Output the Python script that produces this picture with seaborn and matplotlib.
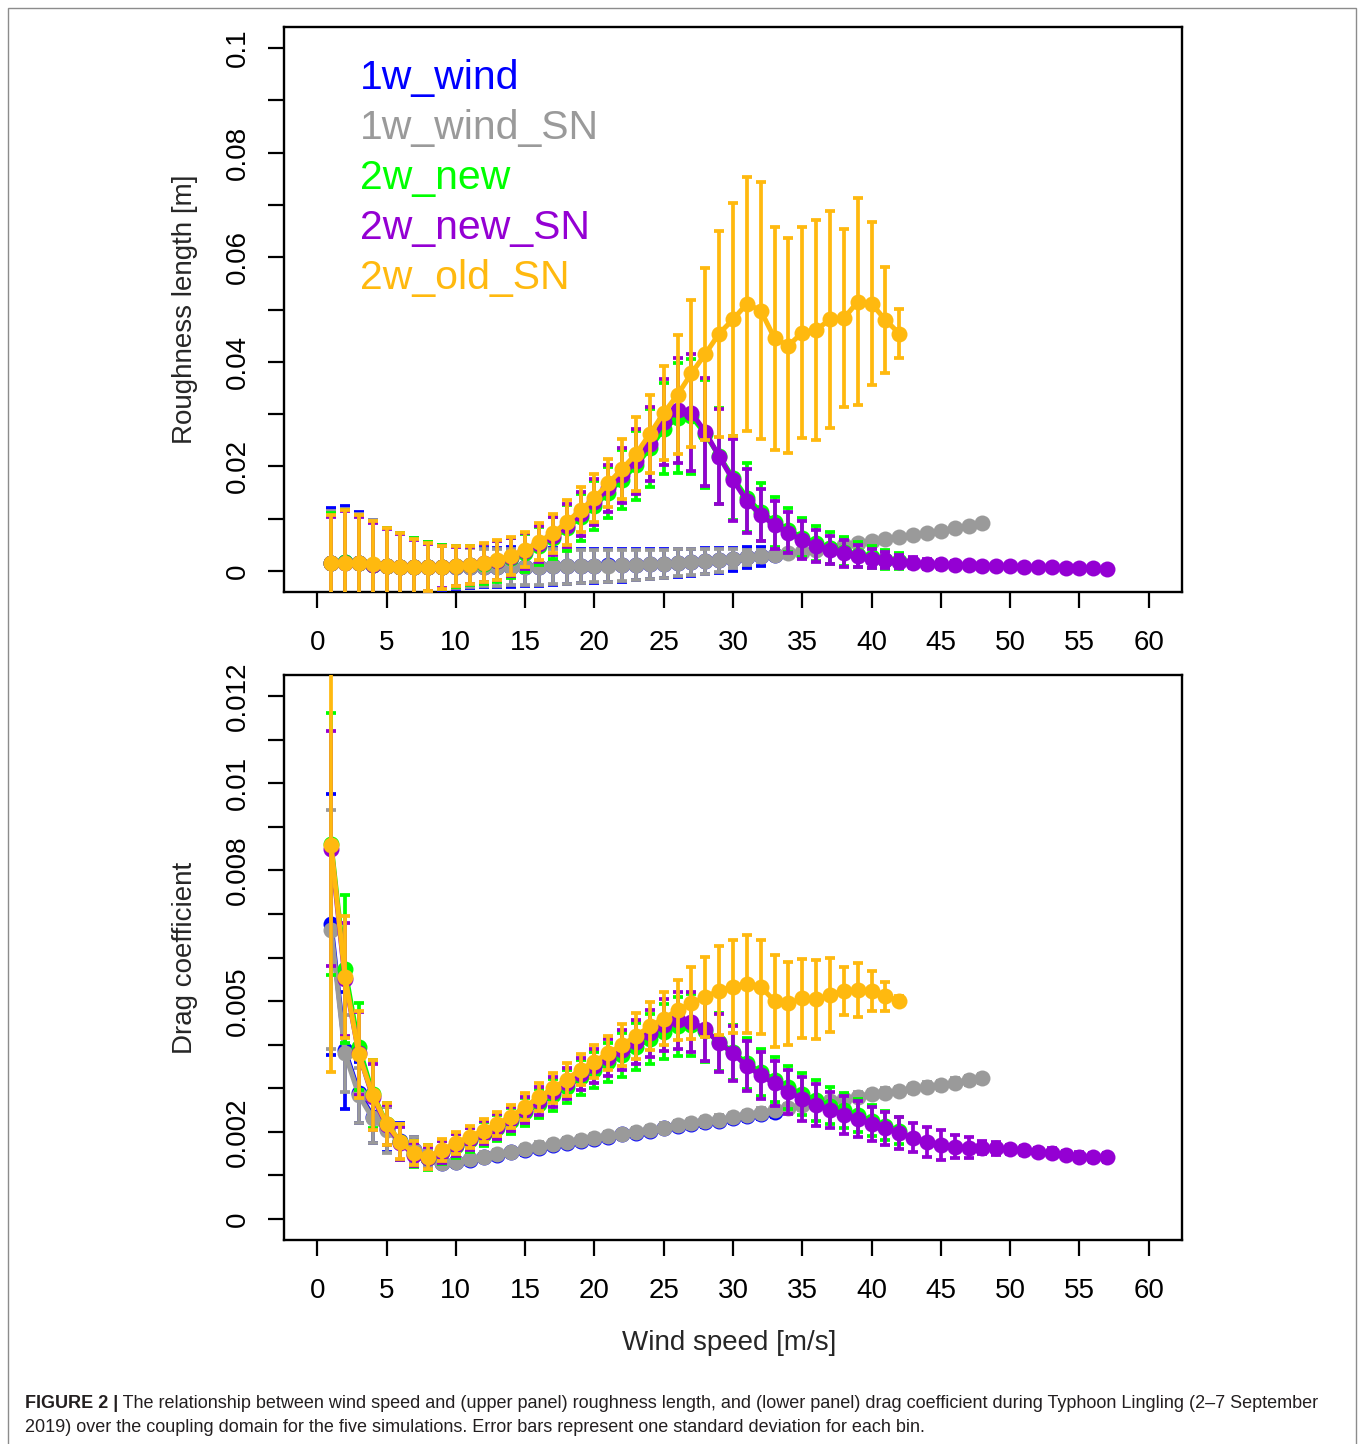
import numpy as np
import pandas as pd
import matplotlib
matplotlib.use("Agg")
import matplotlib.pyplot as plt
import seaborn as sns
from matplotlib.patches import Rectangle

# ---------------- data ----------------
series_names = ["1w_wind", "1w_wind_SN", "2w_new", "2w_new_SN", "2w_old_SN"]
series_colors = ["#0000FF", "#9A9A9A", "#00FF00", "#9400D3", "#FFB90F"]

x_ticks = [0, 5, 10, 15, 20, 25, 30, 35, 40, 45, 50, 55, 60]

# ---- upper panel: roughness length [m] (wind-speed bins start at 1 m/s) ----
blue_z0 = [0.0016, 0.0017, 0.0015, 0.0012, 0.0010, 0.0008, 0.0007, 0.0007, 0.0007, 0.0007,
           0.0007, 0.0007, 0.0007, 0.0008, 0.0008, 0.0008, 0.0009, 0.0009, 0.0010, 0.0010,
           0.0011, 0.0011, 0.0012, 0.0013, 0.0014, 0.0016, 0.0017, 0.0019, 0.0021, 0.0023,
           0.0026, 0.0028, 0.0031]
blue_z0_sd = [0.0104, 0.0107, 0.0097, 0.0086, 0.0073, 0.0065, 0.0057, 0.0049, 0.0043, 0.0041,
              0.0039, 0.0038, 0.0037, 0.0038, 0.0037, 0.0036, 0.0035, 0.0034, 0.0033, 0.0032,
              0.0031, 0.0031, 0.0030, 0.0029, 0.0028, 0.0027, 0.0026, 0.0025, 0.0024, 0.0022,
              0.0020, 0.0018, 0.0010]

gray_z0 = [0.0015, 0.0016, 0.0015, 0.0012, 0.0010, 0.0008, 0.0007, 0.0007, 0.0007, 0.0007,
           0.0007, 0.0007, 0.0007, 0.0008, 0.0008, 0.0008, 0.0009, 0.0009, 0.0009, 0.0010,
           0.0010, 0.0011, 0.0012, 0.0013, 0.0014, 0.0016, 0.0017, 0.0019, 0.0021, 0.0024,
           0.0026, 0.0029, 0.0031, 0.0034, 0.0037, 0.0041, 0.0045, 0.0049, 0.0053, 0.0057,
           0.0061, 0.0065, 0.0069, 0.0073, 0.0077, 0.0082, 0.0087, 0.0092]
gray_z0_sd = [0.0100, 0.0102, 0.0095, 0.0085, 0.0072, 0.0064, 0.0056, 0.0048, 0.0042, 0.0040,
              0.0038, 0.0036, 0.0035, 0.0035, 0.0034, 0.0034, 0.0034, 0.0033, 0.0032, 0.0031,
              0.0030, 0.0030, 0.0029, 0.0028, 0.0027, 0.0026, 0.0025, 0.0024, 0.0022, 0.0018,
              0.0015, 0.0012, 0.0003, 0.0003, 0.0003, 0.0003, 0.0003, 0.0003, 0.0003, 0.0003,
              0.0003, 0.0003, 0.0003, 0.0003, 0.0003, 0.0003, 0.0003, 0.0003]

green_z0 = [0.0016, 0.0017, 0.0015, 0.0012, 0.0010, 0.0008, 0.0007, 0.0007, 0.0007, 0.0009,
            0.0011, 0.0014, 0.0019, 0.0025, 0.0035, 0.0048, 0.0063, 0.0082, 0.0103, 0.0125,
            0.0150, 0.0175, 0.0202, 0.0235, 0.0272, 0.0293, 0.0296, 0.0262, 0.0220, 0.0178,
            0.0140, 0.0113, 0.0094, 0.0078, 0.0064, 0.0053, 0.0044, 0.0037, 0.0031, 0.0026,
            0.0022, 0.0019]
green_z0_sd = [0.0095, 0.0100, 0.0090, 0.0082, 0.0072, 0.0064, 0.0056, 0.0048, 0.0042, 0.0039,
               0.0037, 0.0038, 0.0039, 0.0038, 0.0036, 0.0037, 0.0040, 0.0044, 0.0045, 0.0047,
               0.0048, 0.0056, 0.0066, 0.0074, 0.0087, 0.0105, 0.0110, 0.0104, 0.0092, 0.0080,
               0.0066, 0.0055, 0.0048, 0.0042, 0.0038, 0.0033, 0.0030, 0.0028, 0.0024, 0.0021,
               0.0018, 0.0015]

purple_z0 = [0.0015, 0.0016, 0.0015, 0.0012, 0.0010, 0.0008, 0.0007, 0.0007, 0.0007, 0.0009,
             0.0011, 0.0015, 0.0020, 0.0027, 0.0038, 0.0052, 0.0067, 0.0087, 0.0109, 0.0132,
             0.0158, 0.0183, 0.0210, 0.0243, 0.0285, 0.0307, 0.0303, 0.0266, 0.0219, 0.0174,
             0.0134, 0.0107, 0.0088, 0.0073, 0.0059, 0.0048, 0.0040, 0.0034, 0.0029, 0.0024,
             0.0021, 0.0018, 0.0016, 0.0014, 0.0013, 0.0012, 0.0011, 0.0010, 0.0009, 0.0009,
             0.0008, 0.0008, 0.0007, 0.0006, 0.0006, 0.0005, 0.0004]
purple_z0_sd = [0.0089, 0.0098, 0.0088, 0.0080, 0.0070, 0.0062, 0.0053, 0.0045, 0.0040, 0.0037,
                0.0035, 0.0036, 0.0037, 0.0036, 0.0034, 0.0035, 0.0037, 0.0041, 0.0042, 0.0044,
                0.0045, 0.0053, 0.0062, 0.0070, 0.0082, 0.0100, 0.0112, 0.0104, 0.0090, 0.0078,
                0.0062, 0.0050, 0.0045, 0.0039, 0.0036, 0.0030, 0.0027, 0.0026, 0.0021, 0.0019,
                0.0015, 0.0013, 0.0011, 0.0010, 0.0009, 0.0008, 0.0007, 0.0006, 0.0005, 0.0004,
                0.0003, 0.0003, 0.0003, 0.0003, 0.0003, 0.0003, 0.0003]

orange_z0 = [0.0016, 0.0016, 0.0016, 0.0013, 0.0010, 0.0008, 0.0007, 0.0007, 0.0007, 0.0010,
             0.0012, 0.0016, 0.0021, 0.0029, 0.0041, 0.0056, 0.0072, 0.0093, 0.0117, 0.0139,
             0.0168, 0.0195, 0.0224, 0.0262, 0.0302, 0.0337, 0.0378, 0.0415, 0.0454, 0.0481,
             0.0511, 0.0498, 0.0445, 0.0431, 0.0456, 0.0461, 0.0481, 0.0483, 0.0515, 0.0511,
             0.0480, 0.0454]
orange_z0_sd = [0.0091, 0.0101, 0.0091, 0.0083, 0.0072, 0.0064, 0.0055, 0.0046, 0.0041, 0.0038,
                0.0036, 0.0037, 0.0038, 0.0037, 0.0034, 0.0035, 0.0038, 0.0043, 0.0043, 0.0046,
                0.0046, 0.0057, 0.0071, 0.0075, 0.0090, 0.0114, 0.0140, 0.0165, 0.0197, 0.0223,
                0.0243, 0.0245, 0.0213, 0.0206, 0.0201, 0.0210, 0.0208, 0.0170, 0.0198, 0.0156,
                0.0102, 0.0047]

# ---- lower panel: drag coefficient ----
blue_cd = [0.00676, 0.00387, 0.00290, 0.00235, 0.00206, 0.00178, 0.00158, 0.00140, 0.00128, 0.00130,
           0.00136, 0.00142, 0.00148, 0.00153, 0.00158, 0.00164, 0.00170, 0.00175, 0.00180, 0.00184,
           0.00189, 0.00194, 0.00198, 0.00202, 0.00209, 0.00214, 0.00218, 0.00222, 0.00226, 0.00231,
           0.00236, 0.00240, 0.00245]
blue_cd_sd = [0.00300, 0.00134, 0.00070, 0.00060, 0.00052, 0.00042, 0.00030, 0.00020, 0.00010, 0.00010,
              0.00010, 0.00010, 0.00010, 0.00010, 0.00010, 0.00010, 0.00010, 0.00010, 0.00010, 0.00010,
              0.00010, 0.00010, 0.00010, 0.00010, 0.00010, 0.00010, 0.00010, 0.00010, 0.00010, 0.00010,
              0.00010, 0.00010, 0.00010]

gray_cd = [0.00664, 0.00380, 0.00284, 0.00231, 0.00204, 0.00177, 0.00158, 0.00139, 0.00128, 0.00131,
           0.00137, 0.00143, 0.00149, 0.00154, 0.00160, 0.00166, 0.00172, 0.00177, 0.00181, 0.00185,
           0.00190, 0.00195, 0.00199, 0.00204, 0.00210, 0.00216, 0.00220, 0.00224, 0.00228, 0.00234,
           0.00239, 0.00244, 0.00250, 0.00254, 0.00261, 0.00267, 0.00270, 0.00275, 0.00281, 0.00287,
           0.00290, 0.00294, 0.00300, 0.00304, 0.00307, 0.00313, 0.00318, 0.00323]
gray_cd_sd = [0.00275, 0.00088, 0.00063, 0.00057, 0.00052, 0.00042, 0.00030, 0.00020, 0.00010, 0.00010,
              0.00010, 0.00010, 0.00010, 0.00010, 0.00010, 0.00010, 0.00010, 0.00010, 0.00010, 0.00010,
              0.00010, 0.00010, 0.00010, 0.00010, 0.00010, 0.00010, 0.00010, 0.00010, 0.00010, 0.00010,
              0.00010, 0.00010, 0.00010, 0.00010, 0.00010, 0.00010, 0.00010, 0.00010, 0.00010, 0.00010,
              0.00010, 0.00010, 0.00010, 0.00010, 0.00010, 0.00010, 0.00010, 0.00010]

green_cd = [0.00860, 0.00573, 0.00395, 0.00288, 0.00219, 0.00176, 0.00149, 0.00141, 0.00153, 0.00168,
            0.00182, 0.00195, 0.00209, 0.00225, 0.00245, 0.00265, 0.00285, 0.00304, 0.00325, 0.00342,
            0.00360, 0.00377, 0.00395, 0.00413, 0.00430, 0.00442, 0.00445, 0.00432, 0.00406, 0.00383,
            0.00357, 0.00337, 0.00320, 0.00302, 0.00287, 0.00272, 0.00260, 0.00250, 0.00238, 0.00226,
            0.00214, 0.00203]
green_cd_sd = [0.00300, 0.00170, 0.00100, 0.00078, 0.00048, 0.00040, 0.00029, 0.00028, 0.00027, 0.00027,
               0.00027, 0.00028, 0.00030, 0.00030, 0.00032, 0.00034, 0.00036, 0.00038, 0.00040, 0.00042,
               0.00045, 0.00050, 0.00054, 0.00058, 0.00063, 0.00068, 0.00072, 0.00072, 0.00067, 0.00063,
               0.00058, 0.00054, 0.00052, 0.00050, 0.00048, 0.00046, 0.00042, 0.00040, 0.00038, 0.00035,
               0.00033, 0.00030]

purple_cd = [0.00850, 0.00550, 0.00380, 0.00280, 0.00216, 0.00174, 0.00148, 0.00140, 0.00154, 0.00170,
             0.00184, 0.00198, 0.00212, 0.00229, 0.00250, 0.00271, 0.00291, 0.00311, 0.00333, 0.00350,
             0.00370, 0.00387, 0.00406, 0.00426, 0.00445, 0.00456, 0.00453, 0.00435, 0.00404, 0.00380,
             0.00351, 0.00330, 0.00311, 0.00292, 0.00275, 0.00261, 0.00250, 0.00239, 0.00229, 0.00218,
             0.00208, 0.00197, 0.00187, 0.00177, 0.00170, 0.00166, 0.00164, 0.00164, 0.00162, 0.00160,
             0.00158, 0.00154, 0.00152, 0.00147, 0.00143, 0.00142, 0.00142]
purple_cd_sd = [0.00270, 0.00130, 0.00095, 0.00075, 0.00046, 0.00038, 0.00027, 0.00026, 0.00025, 0.00025,
                0.00025, 0.00026, 0.00028, 0.00028, 0.00030, 0.00032, 0.00034, 0.00036, 0.00037, 0.00039,
                0.00042, 0.00046, 0.00050, 0.00054, 0.00060, 0.00065, 0.00069, 0.00072, 0.00066, 0.00063,
                0.00058, 0.00054, 0.00052, 0.00051, 0.00050, 0.00048, 0.00042, 0.00044, 0.00041, 0.00040,
                0.00038, 0.00037, 0.00034, 0.00034, 0.00034, 0.00027, 0.00025, 0.00015, 0.00015, 0.00010,
                0.00010, 0.00010, 0.00010, 0.00010, 0.00010, 0.00010, 0.00010]

orange_cd = [0.00857, 0.00556, 0.00378, 0.00284, 0.00219, 0.00177, 0.00151, 0.00143, 0.00158, 0.00174,
             0.00189, 0.00203, 0.00218, 0.00235, 0.00258, 0.00279, 0.00300, 0.00320, 0.00343, 0.00361,
             0.00381, 0.00399, 0.00420, 0.00442, 0.00460, 0.00479, 0.00495, 0.00510, 0.00524, 0.00533,
             0.00539, 0.00533, 0.00500, 0.00495, 0.00506, 0.00504, 0.00514, 0.00524, 0.00525, 0.00524,
             0.00511, 0.00501]
orange_cd_sd = [0.00520, 0.00140, 0.00100, 0.00080, 0.00048, 0.00040, 0.00027, 0.00027, 0.00025, 0.00025,
                0.00025, 0.00026, 0.00028, 0.00027, 0.00031, 0.00032, 0.00034, 0.00037, 0.00036, 0.00038,
                0.00040, 0.00048, 0.00052, 0.00055, 0.00060, 0.00069, 0.00083, 0.00092, 0.00102, 0.00107,
                0.00112, 0.00108, 0.00106, 0.00095, 0.00090, 0.00090, 0.00086, 0.00055, 0.00062, 0.00046,
                0.00033, 0.00010]

z0_means = [blue_z0, gray_z0, green_z0, purple_z0, orange_z0]
z0_sds = [blue_z0_sd, gray_z0_sd, green_z0_sd, purple_z0_sd, orange_z0_sd]
cd_means = [blue_cd, gray_cd, green_cd, purple_cd, orange_cd]
cd_sds = [blue_cd_sd, gray_cd_sd, green_cd_sd, purple_cd_sd, orange_cd_sd]

z0_ticks = [0, 0.01, 0.02, 0.03, 0.04, 0.05, 0.06, 0.07, 0.08, 0.09, 0.1]
z0_ticklabels = ["0", "", "0.02", "", "0.04", "", "0.06", "", "0.08", "", "0.1"]
cd_ticks = [0, 0.001, 0.002, 0.003, 0.004, 0.005, 0.006, 0.007, 0.008, 0.009, 0.010, 0.011, 0.012]
cd_ticklabels = ["0", "", "0.002", "", "", "0.005", "", "", "0.008", "", "0.01", "", "0.012"]

caption_bold = "FIGURE 2 |"
caption_line1 = (" The relationship between wind speed and (upper panel) roughness length, and (lower panel) "
                 "drag coefficient during Typhoon Lingling (2\u20137 September")
caption_line2 = ("2019) over the coupling domain for the five simulations. Error bars represent one standard "
                 "deviation for each bin.")

# ---------------- style ----------------
sns.set_style("ticks")
plt.rcParams["font.family"] = ["Liberation Sans", "DejaVu Sans"]

W, H = 1358, 1444
fig = plt.figure(figsize=(W / 100, H / 100), dpi=100)
fig.patch.set_facecolor("white")

def frac_box(left, top, right, bottom):
    return [left / W, 1 - bottom / H, (right - left) / W, (bottom - top) / H]

ax1 = fig.add_axes(frac_box(284, 27, 1182, 592))
ax2 = fig.add_axes(frac_box(284, 675, 1182, 1240))

TICK_FS = 20


def draw_panel(ax, means, sds):
    for i, (name, color, y, sd) in enumerate(zip(series_names, series_colors, means, sds)):
        x = np.arange(1, len(y) + 1)
        df = pd.DataFrame({"wind": x, "val": y, "sd": sd})
        z = 3 + 2 * i
        sns.lineplot(data=df, x="wind", y="val", color=color, linewidth=3.6,
                     marker="o", markersize=11.5, markeredgewidth=0, ax=ax, zorder=z,
                     errorbar=None, legend=False)
        ax.errorbar(df["wind"], df["val"], yerr=df["sd"], fmt="none", ecolor=color,
                    elinewidth=2.7, capsize=3.6, capthick=2.7, zorder=z + 1)
    ax.set_xlim(-2.4, 62.4)
    ax.set_xticks(x_ticks)
    ax.set_xticklabels([str(t) for t in x_ticks])
    ax.set_xlabel("")
    for side in ["top", "right", "bottom", "left"]:
        ax.spines[side].set_visible(True)
        ax.spines[side].set_linewidth(1.7)
        ax.spines[side].set_color("black")
    ax.tick_params(axis="both", which="major", direction="out", length=11.5, width=1.6,
                   labelsize=TICK_FS, pad=12, colors="black", top=False, right=False)
    ax.tick_params(axis="x", pad=16)
    ax.grid(False)


draw_panel(ax1, z0_means, z0_sds)
ax1.set_ylim(-0.004, 0.104)
ax1.set_yticks(z0_ticks)
ax1.set_yticklabels(z0_ticklabels, rotation=90, va="center")
ax1.set_ylabel("Roughness length [m]", fontsize=20, va="center")
ax1.yaxis.set_label_coords(-0.1102, 0.5)

draw_panel(ax2, cd_means, cd_sds)
ax2.set_ylim(-0.00048, 0.01248)
ax2.set_yticks(cd_ticks)
ax2.set_yticklabels(cd_ticklabels, rotation=90, va="center")
ax2.set_ylabel("Drag coefficient", fontsize=20, va="center")
ax2.yaxis.set_label_coords(-0.1102, 0.5)
ax2.set_xlabel("Wind speed [m/s]", fontsize=20, va="center")
ax2.xaxis.set_label_coords(0.4955, -0.1815)

# legend: coloured text only
for k, (name, color) in enumerate(zip(series_names, series_colors)):
    ax1.text(0.0846, 0.9097 - k * 0.0885, name, transform=ax1.transAxes, color=color,
             fontsize=29.5, ha="left", va="center", zorder=20)

# outer frame
fig.patches.append(Rectangle((8 / W, -0.02), (1356 - 8) / W, 1 - 8 / H + 0.02,
                             transform=fig.transFigure, fill=False, edgecolor="#8c8c8c",
                             linewidth=1.0, zorder=0))

# caption
fig.canvas.draw()
renderer = fig.canvas.get_renderer()
cap_fs = 12.5
tb = fig.text(25 / W, 1 - 1403 / H, caption_bold, fontsize=cap_fs, fontweight="bold",
              color="#231f20", ha="left", va="center")
tr = fig.text(0, 1 - 1403 / H, caption_line1, fontsize=cap_fs, color="#231f20",
              ha="left", va="center")
bb = tb.get_window_extent(renderer)
rb = tr.get_window_extent(renderer)
total = bb.width + rb.width
scale = (1318 - 25) / total
cap_fs2 = cap_fs * scale
tb.set_fontsize(cap_fs2)
tr.set_fontsize(cap_fs2)
fig.canvas.draw()
bb = tb.get_window_extent(renderer)
tr.set_x(bb.x1 / W)
fig.text(25 / W, 1 - 1428 / H, caption_line2, fontsize=cap_fs2, color="#231f20",
         ha="left", va="center")

fig.savefig("out.png", dpi=100, facecolor="white")
